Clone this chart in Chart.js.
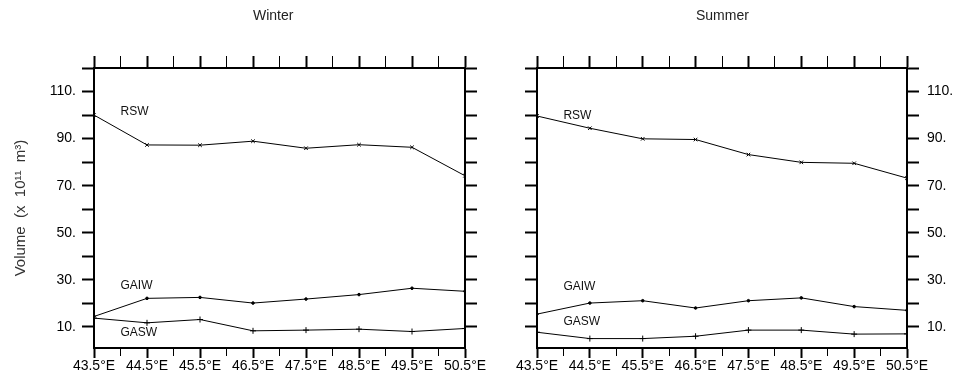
<!DOCTYPE html>
<html>
<head>
<meta charset="utf-8">
<script src="https://cdn.jsdelivr.net/npm/chart.js@4.4.0/dist/chart.umd.min.js"></script>
<style>
    html, body { margin: 0; padding: 0; background: #fff; }
    #wrap { position: relative; width: 957px; height: 380px; overflow: hidden; }
    .panel { position: absolute; top: 0; height: 380px; }
    #left { left: 0; width: 500px; }
    #right { left: 500px; width: 457px; }
</style>
</head>
<body>
<div id="wrap">
    <div class="panel" id="left"><canvas id="winter-ctx"></canvas></div>
    <div class="panel" id="right"><canvas id="summer-ctx"></canvas></div>
</div>
<script>
// longitudes of the sections (x), ticks every half degree
const longitudes = [43.5, 44.5, 45.5, 46.5, 47.5, 48.5, 49.5, 50.5];
const xTickValues = [43.5, 44, 44.5, 45, 45.5, 46, 46.5, 47, 47.5, 48, 48.5, 49, 49.5, 50, 50.5];
const yTickValues = [10, 20, 30, 40, 50, 60, 70, 80, 90, 100, 110, 120];
const yLabelValues = [10, 30, 50, 70, 90, 110];

// volumes (x 10^11 m^3)
const winterRSW  = [100.0, 87.3, 87.2, 88.9, 85.9, 87.4, 86.3, 74.2];
const winterGAIW = [14.4, 22.1, 22.5, 20.1, 21.8, 23.7, 26.4, 25.1];
const winterGASW = [13.7, 11.7, 13.1, 8.3, 8.6, 9.0, 8.0, 9.3];

const summerRSW  = [99.6, 94.4, 89.9, 89.6, 83.2, 79.9, 79.5, 73.2];
const summerGAIW = [15.4, 20.1, 21.1, 18.0, 21.1, 22.3, 18.6, 17.0];
const summerGASW = [7.7, 5.0, 5.0, 6.0, 8.6, 8.6, 6.9, 7.0];

const seriesNames = ["RSW", "GAIW", "GASW"];

const tickFont = { family: "'Liberation Sans', Arial, sans-serif", size: 14 };

const panelTextPlugin = {
    id: "panelText",
    afterDatasetsDraw(chart, args, opts) {
        const { ctx, chartArea } = chart;
        const x = chart.scales.x;
        const y = chart.scales.y;
        ctx.save();
        ctx.fillStyle = "#111";
        ctx.textBaseline = "middle";
        ctx.textAlign = "left";
        ctx.font = "12px 'Liberation Sans', Arial, sans-serif";
        opts.labels.forEach((item) => {
            ctx.fillText(item.text, x.getPixelForValue(item.x), y.getPixelForValue(item.y));
        });
        ctx.font = "14px 'Liberation Sans', Arial, sans-serif";
        ctx.fillStyle = "#222";
        ctx.fillText(opts.title, chartArea.left + 159, 16);
        ctx.restore();
    }
};

function toPoints(values) {
    return values.map((v, i) => ({ x: longitudes[i], y: v }));
}

function buildPanel(ctxId, title, rsw, gaiw, gasw, labelY, side) {
    const isLeft = side === "left";
    const markers = ["crossRot", "circle", "cross"];
    const radii = [2.5, 1.3, 3];
    const dataSetList = [rsw, gaiw, gasw].map((values, i) => {
        return {
            label: seriesNames[i],
            data: toPoints(values),
            borderColor: "#000",
            backgroundColor: "#000",
            borderWidth: 1,
            pointStyle: markers[i],
            pointRadius: radii[i],
            pointBorderWidth: 1,
            tension: 0,
        }
    });

    const isMajorX = (c) => c.tick && longitudes.includes(c.tick.value);
    const yTicks = (s) => { s.ticks = yTickValues.map((v) => ({ value: v })); };
    const xTicks = (s) => { s.ticks = xTickValues.map((v) => ({ value: v })); };

    const yAxis = (position, width, showLabels, padding) => ({
        type: "linear",
        position: position,
        min: 1,
        max: 120,
        afterBuildTicks: yTicks,
        afterFit: (s) => { s.width = width; },
        border: { display: true, color: "#000", width: 2 },
        grid: { drawOnChartArea: false, drawTicks: true, tickLength: 12, tickWidth: 2, tickColor: "#000" },
        ticks: {
            display: showLabels,
            autoSkip: false,
            padding: padding,
            color: "#000",
            font: tickFont,
            callback: (v) => yLabelValues.includes(v) ? v + "." : "",
        },
        title: {
            display: isLeft && position === "left",
            text: "Volume  (x  10\u00b9\u00b9  m\u00b3)",
            color: "#333",
            font: { family: tickFont.family, size: 15 },
            padding: { top: 12, bottom: 0 },
        },
    });

    const ctx = document.getElementById(ctxId);

    return new Chart(ctx, {
        type: "line",
        data: { datasets: dataSetList },
        plugins: [panelTextPlugin],
        options: {
            responsive: true,
            maintainAspectRatio: false,
            animation: false,
            layout: {
                autoPadding: false,
                padding: { left: isLeft ? 0 : 25, right: 0, top: 56, bottom: 0 },
            },
            plugins: {
                legend: { display: false },
                title: { display: false },
                tooltip: { enabled: false },
                panelText: {
                    title: title,
                    labels: seriesNames.map((name, i) => ({ text: name, x: 44.0, y: labelY[i] })),
                },
            },
            scales: {
                x: {
                    type: "linear",
                    position: "bottom",
                    min: 43.5,
                    max: 50.5,
                    afterBuildTicks: xTicks,
                    afterFit: (s) => { s.height = 32; },
                    border: { display: true, color: "#000", width: 2 },
                    grid: {
                        drawOnChartArea: false,
                        drawTicks: true,
                        tickLength: 10,
                        tickColor: "#000",
                        tickWidth: (c) => isMajorX(c) ? 2 : 1,
                        tickBorderDash: (c) => isMajorX(c) ? [] : [7, 40],
                    },
                    ticks: {
                        autoSkip: false,
                        maxRotation: 0,
                        padding: 0,
                        color: "#000",
                        font: tickFont,
                        callback: (v) => longitudes.includes(v) ? v.toFixed(1) + "\u00b0E" : "",
                    },
                },
                x2: {
                    type: "linear",
                    position: "top",
                    min: 43.5,
                    max: 50.5,
                    afterBuildTicks: xTicks,
                    afterFit: (s) => { s.height = 12; },
                    border: { display: true, color: "#000", width: 2 },
                    grid: {
                        drawOnChartArea: false,
                        drawTicks: true,
                        tickLength: 12,
                        tickColor: "#000",
                        tickWidth: (c) => isMajorX(c) ? 2 : 1,
                    },
                    ticks: { display: false },
                },
                y: yAxis("left", isLeft ? 94 : 12, isLeft, 6),
                y2: yAxis("right", isLeft ? 35 : 50, !isLeft, 8),
            }
        }
    });
}

buildPanel("winter-ctx", "Winter", winterRSW, winterGAIW, winterGASW, [101.4, 27.3, 7.4], "left");
buildPanel("summer-ctx", "Summer", summerRSW, summerGAIW, summerGASW, [99.7, 27.1, 12.2], "right");
</script>
</body>
</html>
